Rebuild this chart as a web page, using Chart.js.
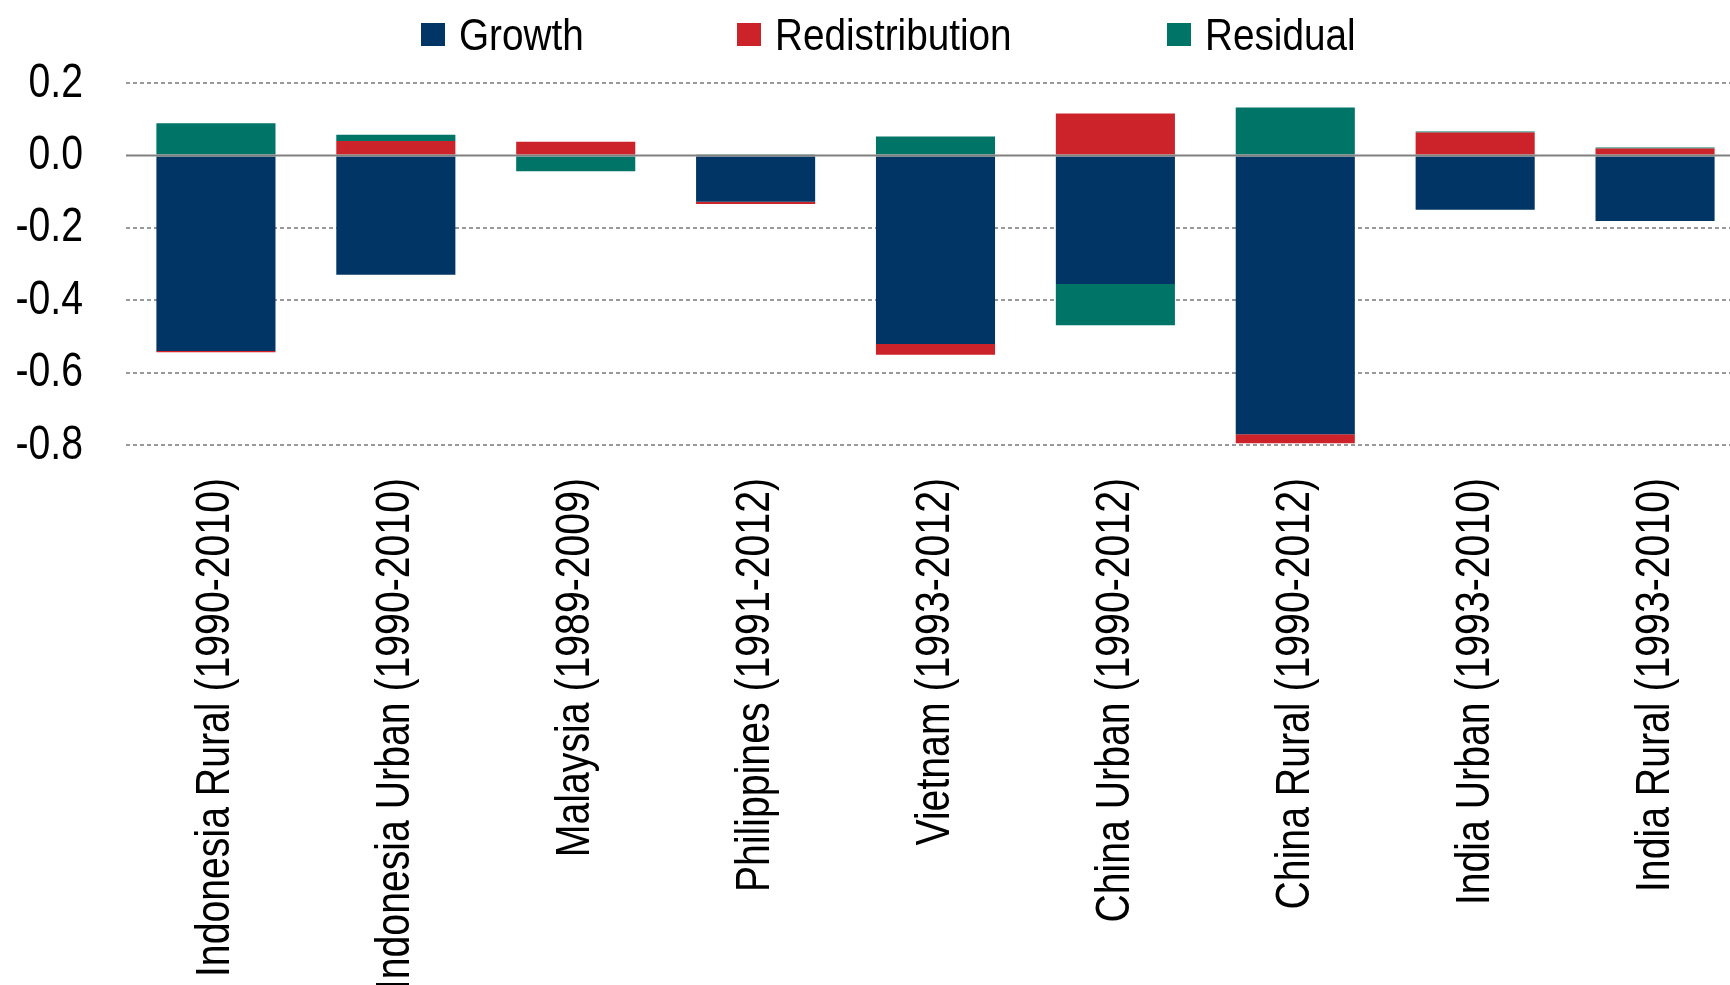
<!DOCTYPE html>
<html>
<head>
<meta charset="utf-8">
<script src="https://cdn.jsdelivr.net/npm/chart.js@4/dist/chart.umd.min.js"></script>
<style>
  html, body { margin: 0; padding: 0; background: #fff; overflow: hidden; }
  #wrap { position: relative; width: 1730px; height: 985px; overflow: hidden; }
  canvas { position: absolute; left: 0; top: 0; }
  .leg { position: absolute; top: 23px; height: 24px; }
  .leg .box { position: absolute; left: 0; top: 0; width: 24px; height: 23px; }
  .leg .txt { position: absolute; left: 38px; top: -14px; white-space: nowrap; line-height: 52px;
              font-family: 'Liberation Sans', Arial, sans-serif; font-size: 45px; color: #000;
              transform: scaleX(0.86); transform-origin: 0 50%; }
</style>
</head>
<body>
<div id="wrap">
  <canvas id="grafico" width="1745" height="985"></canvas>
  <div class="leg" style="left:421px"><span class="box" style="background:#003566"></span><span class="txt">Growth</span></div>
  <div class="leg" style="left:737px"><span class="box" style="background:#cc2229"></span><span class="txt">Redistribution</span></div>
  <div class="leg" style="left:1167px"><span class="box" style="background:#007466"></span><span class="txt">Residual</span></div>
</div>
<script>
const categorias = [
  "Indonesia Rural (1990-2010)",
  "Indonesia Urban (1990-2010)",
  "Malaysia (1989-2009)",
  "Philippines (1991-2012)",
  "Vietnam (1993-2012)",
  "China Urban (1990-2012)",
  "China Rural (1990-2012)",
  "India Urban (1993-2010)",
  "India Rural (1993-2010)",
];
const growth = [-0.54, -0.33, -0.003, -0.128, -0.521, -0.355, -0.77, -0.15, -0.181];
const redistribution = [-0.004, 0.04, 0.038, -0.006, -0.03, 0.116, -0.025, 0.063, 0.019];
const residual = [0.089, 0.017, -0.041, 0.003, 0.052, -0.114, 0.132, 0.003, 0.003];
const yTicks = [-0.8, -0.6, -0.4, -0.2, 0.0, 0.2];

// fuente estrecha simulada: Liberation Sans comprimida en horizontal
const fuente = "49px 'Liberation Sans', Arial, sans-serif";
const estrecho = 0.8;

// linea del cero encima de las barras + etiquetas de los ejes
const ejes = {
  id: "ejes",
  afterDatasetsDraw(chart) {
    const ctx = chart.ctx;
    const area = chart.chartArea;
    const sy = chart.scales.y;
    const sx = chart.scales.x;

    const y0 = sy.getPixelForValue(0);
    ctx.save();
    ctx.strokeStyle = "#808080";
    ctx.lineWidth = 2;
    ctx.beginPath();
    ctx.moveTo(area.left, y0);
    ctx.lineTo(area.right, y0);
    ctx.stroke();
    ctx.restore();

    ctx.save();
    ctx.fillStyle = "#000";
    ctx.font = fuente;
    ctx.textAlign = "right";
    ctx.textBaseline = "middle";
    sy.ticks.forEach(t => {
      ctx.save();
      ctx.translate(area.left - 43, sy.getPixelForValue(t.value));
      ctx.scale(estrecho, 1);
      ctx.fillText(Number(t.value).toFixed(1), 0, 0);
      ctx.restore();
    });
    chart.data.labels.forEach((lab, i) => {
      ctx.save();
      ctx.translate(sx.getPixelForTick(i), area.bottom + 33);
      ctx.rotate(-Math.PI / 2);
      ctx.scale(estrecho, 1);
      ctx.fillText(lab, 0, 0);
      ctx.restore();
    });
    ctx.restore();
  },
};

const ctx = document.getElementById("grafico").getContext("2d");
new Chart(ctx, {
  type: "bar",
  data: {
    labels: categorias,
    datasets: [
      { label: "Growth", data: growth, backgroundColor: "#003566" },
      { label: "Redistribution", data: redistribution, backgroundColor: "#cc2229" },
      { label: "Residual", data: residual, backgroundColor: "#007466" },
    ],
  },
  options: {
    responsive: false,
    animation: false,
    devicePixelRatio: 1,
    layout: { padding: { top: 83, left: 17, right: 0, bottom: 0 } },
    datasets: { bar: { barPercentage: 1, categoryPercentage: 0.662 } },
    plugins: { legend: { display: false }, tooltip: { enabled: false } },
    scales: {
      x: {
        stacked: true,
        grid: { display: false, drawTicks: false },
        border: { display: false },
        ticks: { display: false },
        afterFit(scale) { scale.height = 540; },
      },
      y: {
        stacked: true,
        min: -0.8,
        max: 0.2,
        afterBuildTicks(scale) { scale.ticks = yTicks.map(v => ({ value: v })); },
        grid: {
          drawTicks: false,
          color: c => (c.tick && Math.abs(c.tick.value) < 1e-9 ? "rgba(0,0,0,0)" : "#999999"),
          lineWidth: 2,
        },
        border: { display: false, dash: [4, 3] },
        ticks: { display: false },
        afterFit(scale) { scale.width = 109; },
      },
    },
  },
  plugins: [ejes],
});
</script>
</body>
</html>
